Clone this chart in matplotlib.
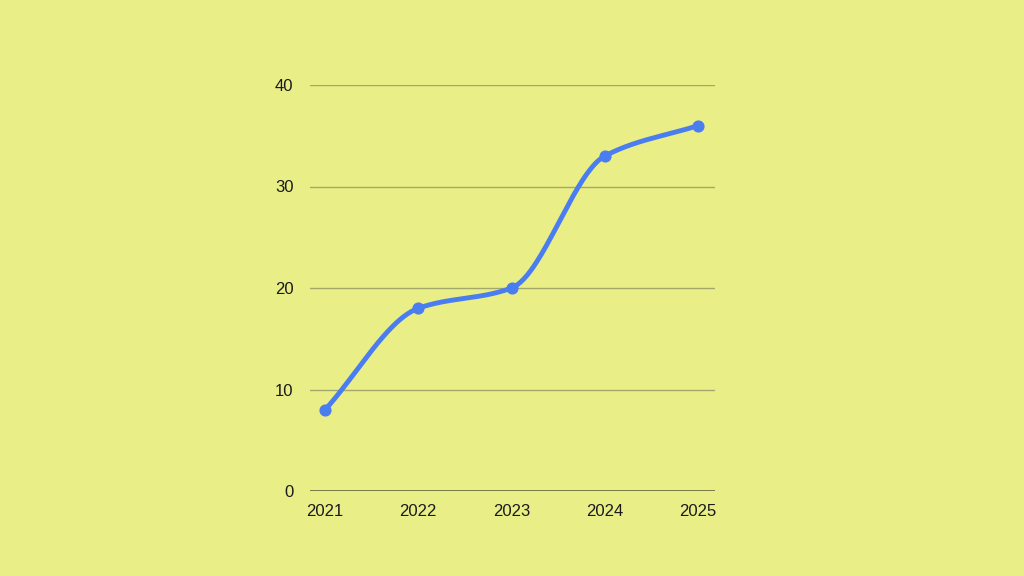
import numpy as np
import matplotlib.pyplot as plt

## data
years = [2021, 2022, 2023, 2024, 2025]
values = [8, 18, 20, 33, 36]
y_ticks = [0, 10, 20, 30, 40]

bg = '#E9EF86'
line_color = '#4A7DF0'


# monotone cubic (Fritsch-Carlson) to draw a smooth line through the points
def monotone_curve(x, y, n=60):
    x = np.asarray(x, float)
    y = np.asarray(y, float)
    h = np.diff(x)
    d = np.diff(y) / h
    m = np.zeros_like(y)
    m[0], m[-1] = d[0], d[-1]
    for i in range(1, len(x) - 1):
        if d[i - 1] * d[i] > 0:
            m[i] = 2 * d[i - 1] * d[i] / (d[i - 1] + d[i])
    xs, ys = [], []
    for i in range(len(x) - 1):
        t = np.linspace(0, 1, n)
        h00 = 2 * t**3 - 3 * t**2 + 1
        h10 = t**3 - 2 * t**2 + t
        h01 = -2 * t**3 + 3 * t**2
        h11 = t**3 - t**2
        xs.append(x[i] + t * h[i])
        ys.append(h00 * y[i] + h10 * h[i] * m[i] + h01 * y[i + 1] + h11 * h[i] * m[i + 1])
    return np.concatenate(xs), np.concatenate(ys)


plt.rcParams['font.family'] = ['Liberation Sans', 'DejaVu Sans']

fig = plt.figure(figsize=(10.24, 5.76), dpi=100, facecolor=bg)
ax = fig.add_axes([310 / 1024, 1 - 491 / 576, 405 / 1024, 406 / 576])
ax.set_facecolor(bg)

xs, ys = monotone_curve(years, values)
ax.plot(xs, ys, color=line_color, lw=3.5, solid_capstyle='round', zorder=3, clip_on=False)
ax.scatter(years, values, s=60, color=line_color, zorder=4, clip_on=False)

ax.set_xlim(2021 - 15 / 93.25, 2025 + 17 / 93.25)
ax.set_ylim(0, 40)
ax.set_xticks(years)
ax.set_xticklabels([str(y) for y in years])
ax.set_yticks(y_ticks)

for t in y_ticks[1:]:
    ax.axhline(t, color='#A3A86A', lw=1, zorder=1)
ax.axhline(0, color='#6E7240', lw=1.3, zorder=2)

for s in ax.spines.values():
    s.set_visible(False)
ax.tick_params(length=0, labelsize=12, colors='#1A1A1A')
ax.tick_params(axis='y', pad=12)
ax.tick_params(axis='x', pad=9)

fig.savefig('out.png', dpi=100, facecolor=bg)
